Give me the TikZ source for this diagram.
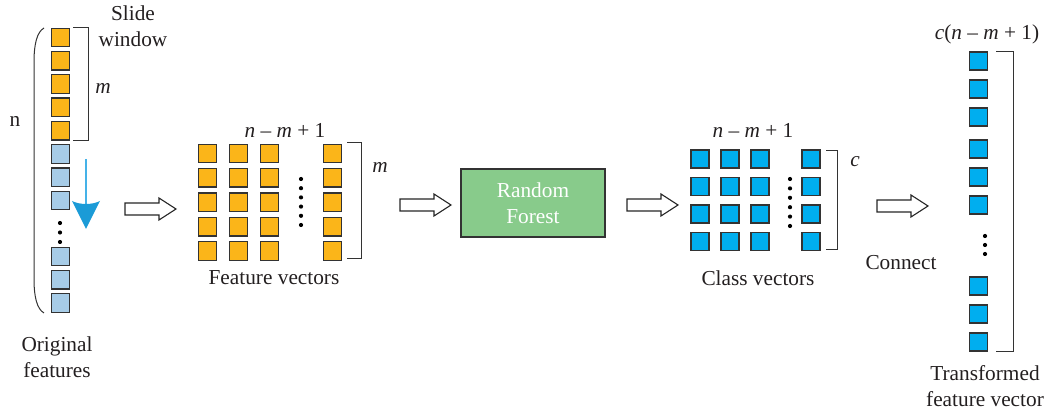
\documentclass[tikz,border=0pt]{standalone}
\usepackage{fontspec}
\setmainfont{Liberation Serif}
\definecolor{txt}{HTML}{231F20}
\definecolor{sqline}{HTML}{333333}
\definecolor{orangesq}{HTML}{FBB519}
\definecolor{paleblue}{HTML}{A7CCE7}
\definecolor{cyansq}{HTML}{00AEEF}
\definecolor{rfgreen}{HTML}{88CB8B}
\definecolor{arrline}{HTML}{45B2E8}
\definecolor{arrhead}{HTML}{1B9BD7}
\tikzset{
  sq/.style={draw=sqline,line width=1.3pt,minimum size=18.5pt,inner sep=0pt},
  osq/.style={sq,fill=orangesq},
  bsq/.style={sq,fill=paleblue},
  csq/.style={sq,fill=cyansq,minimum size=18pt},
  lbl/.style={text=txt,inner sep=0pt,align=center},
  brk/.style={draw=sqline,line width=1pt},
  dotmark/.style={fill=black,circle,inner sep=0pt,minimum size=4.2pt},
  hollow/.pic={\draw[line width=1.1pt,draw=black!85,fill=white] (0,-6) -- (34,-6) -- (34,-11) -- (51,0) -- (34,11) -- (34,6) -- (0,6) -- cycle;}
}
\begin{document}
\begin{tikzpicture}[x=1pt,y=-1pt,font=\fontsize{21.3}{26.5}\selectfont]
\useasboundingbox (0,0) rectangle (1047,411);

% ---------- original features ----------
\foreach \i in {0,...,4} {\node[osq] (o\i) at (60.5,{37.5+23.3*\i}) {};}
\foreach \i in {5,6,7} {\node[bsq] (o\i) at (60.5,{37.5+23.3*\i}) {};}
\foreach \i/\y in {8/256.5,9/279.8,10/303.1} {\node[bsq] (o\i) at (60.5,\y) {};}
\foreach \i/\y in {1/223,2/232.5,3/242} {\node[dotmark] (od\i) at (60,\y) {};}
% big parenthesis
\coordinate (pt) at (44,28);
\coordinate (pb) at (44,313);
\draw[brk] (pt) .. controls (37,32) and (34,44) .. (34,62) -- (34,279) .. controls (34,297) and (37,309) .. (pb);
\node[lbl] (nlab) at (15,121) {n};
% slide window bracket
\coordinate (sw1) at (73,28);
\coordinate (sw2) at (73,141);
\draw[brk] (sw1) -| (88,141) -- (sw2);
\node[lbl] (mlab1) at (103,88) {\itshape m};
\node[lbl] (slide) at (133,26) {Slide\\window};
% blue slide arrow
\coordinate (ba1) at (86,159);
\coordinate (ba2) at (86,229);
\draw[arrline,line width=1.6pt] (ba1) -- (86,208);
\fill[arrhead] (ba2) -- (72,201) .. controls (80,205) and (92,205) .. (100,201) -- cycle;
\node[lbl] (orig) at (57,357) {Original\\features};

% ---------- arrow 1 ----------
\coordinate (h1) at (125,209);
\pic at (h1) {hollow};

% ---------- feature vectors ----------
\foreach \c/\x in {1/207.5,2/238.5,3/269.5,4/332.5} {
  \foreach \r in {0,...,4} {\node[osq] (f\c\r) at (\x,{153.5+24.4*\r}) {};}
}
\foreach \k in {0,...,5} {\node[dotmark] (fd\k) at (301,{179+9.2*\k}) {};}
\coordinate (fb1) at (347,143);
\coordinate (fb2) at (347,259);
\draw[brk] (fb1) -| (361,259) -- (fb2);
\node[lbl] (mlab2) at (380,167) {\itshape m};
\node[lbl] (ftop) at (285,130) {\itshape n\/\upshape\ – \itshape m\upshape\ + 1};
\node[lbl] (flab) at (274,278) {Feature vectors};

% ---------- arrow 2 ----------
\coordinate (h2) at (400,205);
\pic at (h2) {hollow};

% ---------- random forest ----------
\node[draw=sqline,line width=1.3pt,fill=rfgreen,minimum width=144pt,minimum height=68pt,inner sep=0pt,text=white,align=center] (rf) at (533,203) {Random\\Forest};

% ---------- arrow 3 ----------
\coordinate (h3) at (627,205);
\pic at (h3) {hollow};

% ---------- class vectors ----------
\foreach \c/\x in {1/700,2/730,3/760,4/811} {
  \foreach \r in {0,...,3} {\node[csq] (c\c\r) at (\x,{159+27.5*\r}) {};}
}
\foreach \k in {0,...,5} {\node[dotmark] (cd\k) at (790,{179+9.4*\k}) {};}
\coordinate (cb1) at (826,151);
\coordinate (cb2) at (826,250);
\draw[brk] (cb1) -| (837,250) -- (cb2);
\node[lbl] (clab1) at (855,162) {\itshape c};
\node[lbl] (ctop) at (753,130) {\itshape n\/\upshape\ – \itshape m\upshape\ + 1};
\node[lbl] (clab) at (758,278) {Class vectors};

% ---------- arrow 4 ----------
\coordinate (h4) at (877,206);
\pic at (h4) {hollow};
\node[lbl] (conn) at (901,263) {Connect};

% ---------- transformed feature vector ----------
\foreach \i/\y in {1/61,2/89,3/117,4/149,5/177,6/205,7/286,8/314,9/342} {\node[csq] (t\i) at (978.5,\y) {};}
\foreach \i/\y in {1/236,2/245,3/254} {\node[dotmark] (td\i) at (985,\y) {};}
\coordinate (tb1) at (996,52);
\coordinate (tb2) at (996,352);
\draw[brk] (tb1) -| (1013,352) -- (tb2);
\node[lbl] (ttop) at (987,34) {\itshape c\upshape(\itshape n\/\upshape\ – \itshape m\upshape\ + 1)};
\node[lbl] (tlab) at (985,386) {Transformed\\feature vector};
\end{tikzpicture}
\end{document}
